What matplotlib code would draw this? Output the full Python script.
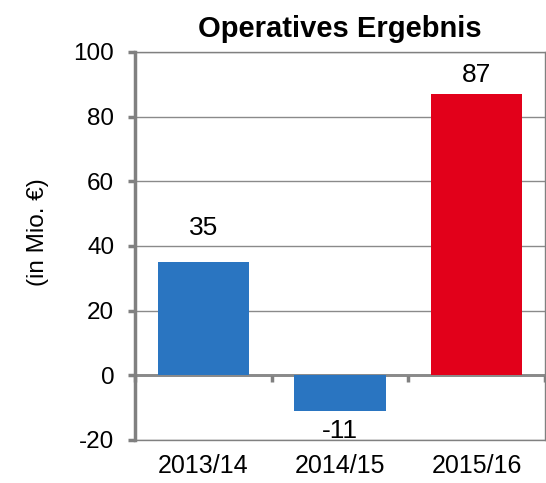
import matplotlib
matplotlib.use("Agg")
import matplotlib.pyplot as plt

categories = ["2013/14", "2014/15", "2015/16"]
values = [35, -11, 87]
labels = ["35", "-11", "87"]
colors = ["#2a75c1", "#2a75c1", "#e2001a"]
yticks = [-20, 0, 20, 40, 60, 80, 100]
label_gap_pt = [16, 6, 5]  # distance of value label from bar end, in points

plt.rcParams['font.family'] = ['Liberation Sans', 'DejaVu Sans']

fig = plt.figure(figsize=(5.46, 4.83), dpi=100)
ax = fig.add_axes([135/546, 1-440/483, 410/546, 388/483])

gray = '#808080'
x = list(range(len(categories)))
ax.bar(x, values, width=0.67, color=colors, zorder=2)
for xi, v, lab, g in zip(x, values, labels, label_gap_pt):
    if v >= 0:
        ax.annotate(lab, (xi, v), xytext=(0, g), textcoords='offset points',
                    ha='center', va='bottom', fontsize=19)
    else:
        ax.annotate(lab, (xi, v), xytext=(0, -g), textcoords='offset points',
                    ha='center', va='top', fontsize=19)

ax.set_xlim(-0.5, 2.5)
ax.set_ylim(-20, 100)
ax.set_yticks(yticks)
ax.set_yticklabels([str(t) for t in yticks], fontsize=17.5)
ax.set_xticks(x)
ax.set_xticklabels(categories, fontsize=18)
ax.tick_params(axis='x', length=0, pad=10)
ax.tick_params(axis='y', length=5, width=2.5, color=gray, pad=10)
ax.yaxis.grid(True, color='#8a8a8a', linewidth=1)
ax.set_axisbelow(True)

for s in ['top', 'right', 'bottom']:
    ax.spines[s].set_color(gray)
    ax.spines[s].set_linewidth(1)
ax.spines['left'].set_color(gray)
ax.spines['left'].set_linewidth(2.5)

sec = ax.secondary_xaxis(20/120)
sec.set_xticks([-0.5, 0.5, 1.5, 2.5])
sec.set_xticklabels([])
sec.tick_params(axis='x', direction='out', length=5, width=2.5, color=gray)
sec.spines['bottom'].set_color(gray)
sec.spines['bottom'].set_linewidth(2)
sec.spines['bottom'].set_zorder(3)

ax.set_title("Operatives Ergebnis", fontsize=21, fontweight='bold', pad=11)
fig.text(38/546, 1-232/483, "(in Mio. €)", rotation=90, ha='center', va='center', fontsize=17.5)

fig.savefig("out.png", dpi=100)
